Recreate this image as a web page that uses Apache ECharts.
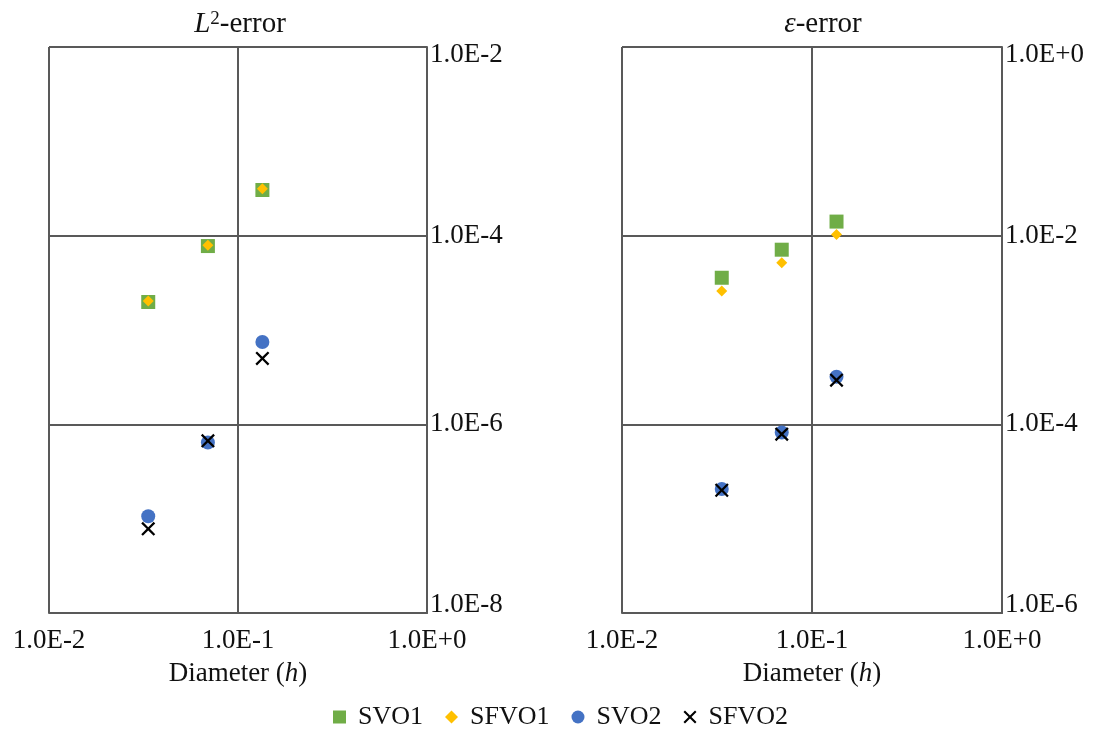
<!DOCTYPE html>
<html>
<head>
<meta charset="utf-8">
<script src="https://cdn.jsdelivr.net/npm/echarts@6/dist/echarts.min.js"></script>
<style>html,body{margin:0;padding:0;background:#fff}#c{width:1095px;height:733px}</style>
</head>
<body>
<div id="c"></div>
<script>
const diameters = [0.0335, 0.0693, 0.1346];
const seriesNames = ['SVO1', 'SFVO1', 'SVO2', 'SFVO2'];
// L2-error
const l2SVO1 = [1.98e-5, 7.76e-5, 3.05e-4];
const l2SFVO1 = [2.03e-5, 7.9e-5, 3.15e-4];
const l2SVO2 = [1.06e-7, 6.43e-7, 7.45e-6];
const l2SFVO2 = [7.8e-8, 6.68e-7, 5.0e-6];
// epsilon-error
const epsSVO1 = [3.58e-3, 7.1e-3, 1.41e-2];
const epsSFVO1 = [2.59e-3, 5.16e-3, 1.03e-2];
const epsSVO2 = [2.06e-5, 8.2e-5, 3.19e-4];
const epsSFVO2 = [2.0e-5, 7.87e-5, 2.94e-4];

const FONT = 'Liberation Serif';
const LINE = '#595959';
const FS = 27;
const crossPath = 'path://M0,1.6L1.6,0L7,5.4L12.4,0L14,1.6L8.6,7L14,12.4L12.4,14L7,8.6L1.6,14L0,12.4L5.4,7Z';
const styles = {
  SVO1: {symbol: 'rect', size: 14, color: '#70AD47'},
  SFVO1: {symbol: 'diamond', size: 11, color: '#FFC000'},
  SVO2: {symbol: 'circle', size: 14, color: '#4472C4'},
  SFVO2: {symbol: crossPath, size: 14, color: '#000000'}
};
const fmt = v => Number(v).toExponential(1).toUpperCase();

function xAx(i) {
  return {
    type: 'log', logBase: 10, min: 0.01, max: 1, gridIndex: i,
    axisLine: {show: true, lineStyle: {color: LINE, width: 2}},
    axisTick: {show: false},
    splitLine: {show: true, lineStyle: {color: LINE, width: 2}},
    axisLabel: {formatter: fmt, fontFamily: FONT, fontSize: FS, color: '#111', margin: 14},
    name: '{a|Diameter (}{b|h}{a|)}',
    nameLocation: 'middle', nameGap: 47,
    nameTextStyle: {rich: {
      a: {fontFamily: FONT, fontSize: FS, color: '#111'},
      b: {fontFamily: FONT, fontSize: FS, fontStyle: 'italic', color: '#111'}
    }}
  };
}
const labelRich = {
  m: {fontFamily: FONT, fontSize: FS, color: '#111'},
  t: {fontFamily: FONT, fontSize: FS, color: '#111', padding: [16, 0, 0, 0]},
  b: {fontFamily: FONT, fontSize: FS, color: '#111', padding: [0, 0, 16, 0]}
};
function yAx(i, mn, mx) {
  const lmn = Math.round(Math.log10(mn)), lmx = Math.round(Math.log10(mx));
  return {
    type: 'log', logBase: 100, min: mn, max: mx, gridIndex: i, position: 'right',
    splitNumber: 3,
    axisLine: {show: true, lineStyle: {color: LINE, width: 2}},
    axisTick: {show: false},
    splitLine: {show: true, lineStyle: {color: LINE, width: 2}},
    axisLabel: {
      formatter: v => {
        const e = Math.round(Math.log10(v));
        const key = e === lmx ? 't' : (e === lmn ? 'b' : 'm');
        return '{' + key + '|' + fmt(v) + '}';
      },
      rich: labelRich, margin: 3
    }
  };
}
function mk(name, xi, ys) {
  const s = styles[name];
  return {
    name: name, type: 'scatter', xAxisIndex: xi, yAxisIndex: xi,
    symbol: s.symbol, symbolSize: s.size,
    itemStyle: {color: s.color, opacity: 1},
    data: diameters.map((d, k) => [d, ys[k]]),
    z: name === 'SFVO2' ? 5 : (name === 'SFVO1' ? 4 : 3)
  };
}
const titleRich = {
  i: {fontFamily: FONT, fontSize: 29, fontStyle: 'italic', fontWeight: 'normal', color: '#111'},
  s: {fontFamily: FONT, fontSize: 19, fontWeight: 'normal', color: '#111', verticalAlign: 'top', lineHeight: 20},
  n: {fontFamily: FONT, fontSize: 29, fontWeight: 'normal', color: '#111'}
};
const option = {
  animation: false,
  backgroundColor: '#fff',
  title: [
    {text: '{i|L}{s|2}{n|-error}', left: 235, top: 5, textAlign: 'center', textStyle: {fontWeight: 'normal', rich: titleRich}},
    {text: '{i|ε}{n|-error}', left: 818, top: 5, textAlign: 'center', textStyle: {fontWeight: 'normal', rich: titleRich}}
  ],
  grid: [
    {left: 49, top: 47, width: 378, height: 566},
    {left: 622, top: 47, width: 380, height: 566}
  ],
  xAxis: [xAx(0), xAx(1)],
  yAxis: [yAx(0, 1e-8, 1e-2), yAx(1, 1e-6, 1)],
  legend: {
    top: 699, left: 328, itemWidth: 13, itemHeight: 13, itemGap: 22,
    textStyle: {fontFamily: FONT, fontSize: 26, color: '#111', padding: [0, 0, 0, 7]},
    data: seriesNames.map(n => ({name: n, icon: styles[n].symbol}))
  },
  series: [
    mk('SVO1', 0, l2SVO1), mk('SFVO1', 0, l2SFVO1), mk('SVO2', 0, l2SVO2), mk('SFVO2', 0, l2SFVO2),
    mk('SVO1', 1, epsSVO1), mk('SFVO1', 1, epsSFVO1), mk('SVO2', 1, epsSVO2), mk('SFVO2', 1, epsSFVO2)
  ]
};
echarts.init(document.getElementById('c'), null, {renderer: 'canvas'}).setOption(option);
</script>
</body>
</html>
